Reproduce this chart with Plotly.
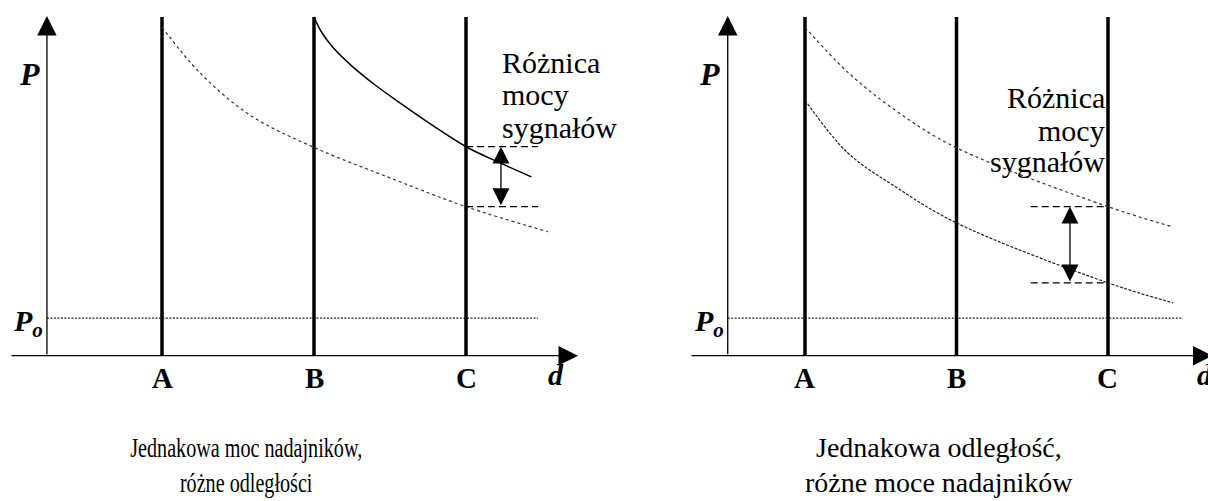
import plotly.graph_objects as go

# ---------------- data ----------------
tx_labels = ["A", "B", "C"]
tx_pos = [1, 2, 3]          # transmitter positions on the d axis
p_top = 100                 # top of the transmitter lines
p_o = 11.1                  # threshold level P_o

# left panel: equal transmitter power, different distances
left_far_r = [0, 0.25, 0.58, 1.0, 1.5, 2.0, 2.54]          # dotted curve, from A
left_far_p = [97, 83.5, 71, 61.5, 52.5, 44, 36.6]
left_near_r = [0, 0.05, 0.125, 0.25, 0.4, 0.57, 0.78, 1.0, 1.22, 1.43]  # solid, from B
left_near_p = [100, 95.5, 91, 85.5, 80, 74.5, 68, 61.7, 57, 52.8]

# right panel: equal distance, different transmitter powers
right_high_r = [0, 0.28, 0.61, 1.0, 2.0, 2.43]
right_high_p = [97, 83.8, 72, 61.4, 44, 38]
right_low_r = [0, 0.28, 0.61, 1.0, 2.0, 2.43]
right_low_p = [75.5, 60, 49.5, 39.2, 21.5, 15.6]

diff_label = ["Różnica", "mocy", "sygnałów"]
captions_left = ["Jednakowa moc nadajników,", "różne odległości"]
captions_right = ["Jednakowa odległość,", "różne moce nadajników"]

# ---------------- layout helpers ----------------
FONT = "Liberation Serif, Times New Roman, DejaVu Serif, serif"
BLACK = "#000000"

panels = {
    "left": dict(xref="x", p_axis=0.243, d_start=0.0, d_tip=3.737, po_end=3.474,
                 cap_x=1.553, d_lab=3.59),
    "right": dict(xref="x2", p_axis=0.49, d_start=0.241, d_tip=3.69, po_end=3.495,
                  cap_x=1.885, d_lab=3.64),
}

fig = go.Figure()
annotations = []


def line_trace(xs, ys, xref, width, dash="solid", color=BLACK, shape="linear"):
    fig.add_trace(go.Scatter(
        x=xs, y=ys, mode="lines", xaxis=xref, yaxis="y",
        line=dict(color=color, width=width, dash=dash, shape=shape),
        hoverinfo="skip", showlegend=False))


def arrow(xref, x_tip, y_tip, x_tail, y_tail, size=3.0, width=1.3, both=False):
    annotations.append(dict(
        xref=xref, yref="y", axref=xref, ayref="y",
        x=x_tip, y=y_tip, ax=x_tail, ay=y_tail, text="",
        showarrow=True, arrowhead=2, arrowsize=size, arrowwidth=width,
        arrowcolor=BLACK, standoff=0, startstandoff=0,
        arrowside="end+start" if both else "end",
        startarrowhead=2, startarrowsize=size))


def text(xref, x, y, s, size=30, xanchor="center"):
    annotations.append(dict(
        xref=xref, yref="y", x=x, y=y, text=s, showarrow=False,
        xanchor=xanchor, yanchor="middle",
        font=dict(family=FONT, size=size, color=BLACK)))


for name, pn in panels.items():
    xr = pn["xref"]
    # axes with arrows
    arrow(xr, pn["p_axis"], 100.3, pn["p_axis"], 0)
    arrow(xr, pn["d_tip"], 0, pn["d_start"], 0)
    # threshold
    line_trace([pn["p_axis"], pn["po_end"]], [p_o, p_o], xr, 1.1, dash="2px,1.5px",
               color="#222222")
    # transmitters
    for lab, pos in zip(tx_labels, tx_pos):
        line_trace([pos, pos], [0, p_top], xr, 3.5)
        text(xr, pos, -6.6, "<b>" + lab + "</b>", size=29)
    # axis labels
    text(xr, pn["p_axis"] - 0.118, 83.2, "<b><i>P</i></b>", size=32)
    text(xr, pn["p_axis"] - 0.125, 9.6, "<b><i>P</i><sub><i>o</i></sub></b>", size=30)
    text(xr, pn["d_lab"], -5.6, "<b><i>d</i></b>", size=30)
    caps = captions_left if name == "left" else captions_right
    for txt, yv in zip(caps, [-26.96, -37.29]):
        text(xr, pn["cap_x"], yv, txt, size=28)

# ---- left panel curves ----
line_trace([tx_pos[0] + r for r in left_far_r], left_far_p, "x", 1.2, dash="dot",
           color="#333333", shape="spline")
line_trace([tx_pos[1] + r for r in left_near_r], left_near_p, "x", 1.5,
           shape="spline")
up_l = left_near_p[left_near_r.index(1.0)]
lo_l = left_far_p[left_far_r.index(2.0)]
for v in (up_l, lo_l):
    line_trace([tx_pos[2], 3.474], [v, v], "x", 1.2, dash="7px,4px")
arrow("x", 3.23, up_l, 3.23, lo_l, size=2.6, width=1.3, both=True)
for txt, yv in zip(diff_label, [86.7, 77.1, 67.5]):
    text("x", 3.224, yv, txt, xanchor="left")

# ---- right panel curves ----
line_trace([tx_pos[0] + r for r in right_high_r], right_high_p, "x2", 1.2, dash="dot",
           color="#333333", shape="spline")
line_trace([tx_pos[0] + r for r in right_low_r], right_low_p, "x2", 1.2,
           dash="3px,1.5px", color="#222222", shape="spline")
up_r = right_high_p[right_high_r.index(2.0)]
lo_r = right_low_p[right_low_r.index(2.0)]
for v in (up_r, lo_r):
    line_trace([2.49, tx_pos[2]], [v, v], "x2", 1.2, dash="7px,4px")
arrow("x2", 2.749, up_r, 2.749, lo_r, size=2.6, width=1.3, both=True)
for txt, yv in zip(diff_label, [76.1, 66.6, 57.2]):
    text("x2", 2.994, yv, txt, xanchor="right")

axis_common = dict(visible=False, showgrid=False, zeroline=False, fixedrange=True)
fig.update_layout(
    width=1208, height=501,
    margin=dict(l=0, r=0, t=0, b=0),
    paper_bgcolor="white", plot_bgcolor="white",
    showlegend=False,
    xaxis=dict(domain=[0, 0.5], range=[-0.06579, 3.9079], anchor="y", **axis_common),
    xaxis2=dict(domain=[0.5, 1.0], range=[-0.3267, 3.6601], anchor="y", **axis_common),
    yaxis=dict(domain=[0, 1], range=[-42.90, 105.02], **axis_common),
    annotations=annotations,
)

# page margin off; the left caption is set in a horizontally condensed face
post = """
document.body.style.margin='0px';
document.body.style.overflow='hidden';
(function(){
  var names = %s;
  function squeeze(){
    var gd = document.getElementById('{plot_id}');
    if(!gd) return;
    gd.querySelectorAll('text.annotation-text').forEach(function(t){
      if(names.indexOf(t.textContent) >= 0 && !t.getAttribute('data-sq')){
        var b = t.getBBox();
        var cx = b.x + b.width / 2;
        t.setAttribute('transform', 'translate(' + cx + ',0) scale(0.72,1) translate(' + (-cx) + ',0)');
        t.setAttribute('data-sq', '1');
      }
    });
  }
  squeeze();
  setTimeout(squeeze, 50);
  setTimeout(squeeze, 300);
})();
""" % ('["' + '","'.join(captions_left) + '"]')

fig.write_html("out.html", config={"staticPlot": True}, post_script=post)
